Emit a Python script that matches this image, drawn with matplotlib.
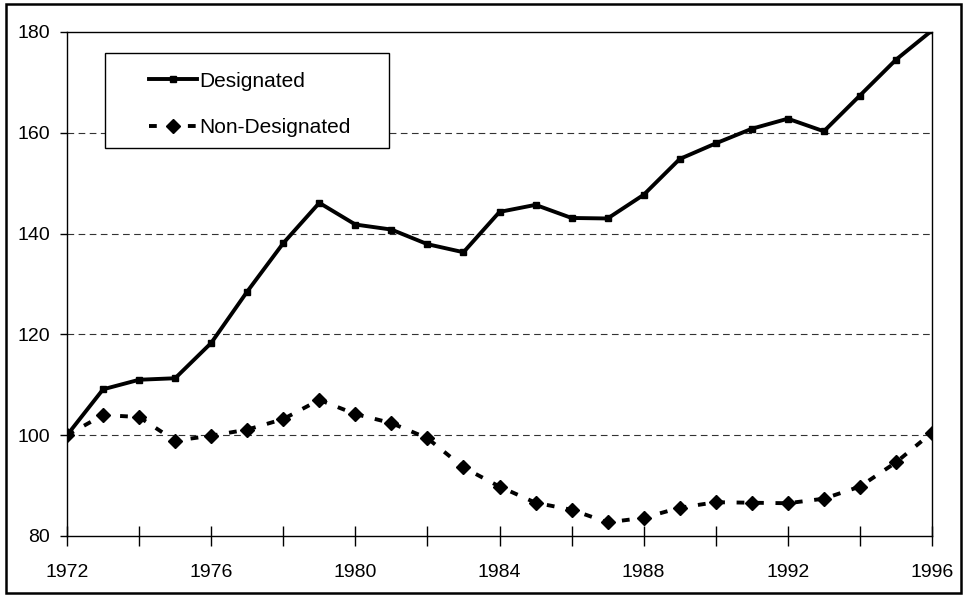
import matplotlib
matplotlib.use("Agg")
import matplotlib.pyplot as plt
from matplotlib.patches import Rectangle
from matplotlib.ticker import MultipleLocator

plt.rcParams["font.family"] = ["Liberation Sans", "DejaVu Sans"]

years = list(range(1972, 1997))
designated = [100, 109.1, 111.0, 111.3, 118.3, 128.5, 138.1, 146.1, 141.8,
              140.8, 137.9, 136.3, 144.3, 145.7, 143.1, 143.0, 147.7, 154.8,
              157.9, 160.8, 162.8, 160.3, 167.4, 174.5, 180.3]
non_designated = [100, 104.0, 103.6, 98.9, 99.9, 101.1, 103.2, 107.0, 104.2,
                  102.4, 99.4, 93.6, 89.8, 86.6, 85.2, 82.7, 83.6, 85.6,
                  86.7, 86.6, 86.5, 87.4, 89.8, 94.6, 100.5]
y_ticks = [80, 100, 120, 140, 160, 180]

fig = plt.figure(figsize=(9.63, 5.97), dpi=100)
ax = fig.add_axes([0.0696, 0.1022, 0.8982, 0.8442])

# outer frame round the whole chart
fig.patches.append(Rectangle((0.006, 0.006), 0.992, 0.987, transform=fig.transFigure,
                             fill=False, edgecolor="black", linewidth=1.8))

for y in y_ticks[1:-1]:
    ax.axhline(y, color="#333333", linewidth=0.8, linestyle=(0, (6, 4)), zorder=1)

ax.plot(years, designated, color="black", linewidth=2.8, marker="s",
        markersize=4.5, label="Designated", zorder=3)
ax.plot(years, non_designated, color="black", linewidth=2.8,
        linestyle=(0, (2.0, 3.0)), marker="D", markersize=7,
        label="Non-Designated", zorder=3)

ax.set_xlim(1972, 1996)
ax.set_ylim(80, 180)
ax.set_yticks(y_ticks)
ax.xaxis.set_major_locator(MultipleLocator(4))
ax.xaxis.set_minor_locator(MultipleLocator(2))
ax.tick_params(axis="x", which="both", direction="inout", length=14, width=1)
ax.tick_params(axis="x", which="major", pad=13, labelsize=14)
ax.tick_params(axis="y", direction="out", length=5, width=1, pad=7, labelsize=14)
for s in ax.spines.values():
    s.set_linewidth(1.0)

# legend box
ax.add_patch(Rectangle((0.044, 0.770), 0.328, 0.188, transform=ax.transAxes,
                       facecolor="white", edgecolor="black", linewidth=1.0, zorder=4))
leg = ax.legend(loc="upper left", bbox_to_anchor=(0.078, 0.950), frameon=False,
                fontsize=15, handlelength=2.3, handletextpad=0.1,
                labelspacing=1.3, borderpad=0.2)
leg.set_zorder(5)

fig.savefig("out.png", dpi=100)
